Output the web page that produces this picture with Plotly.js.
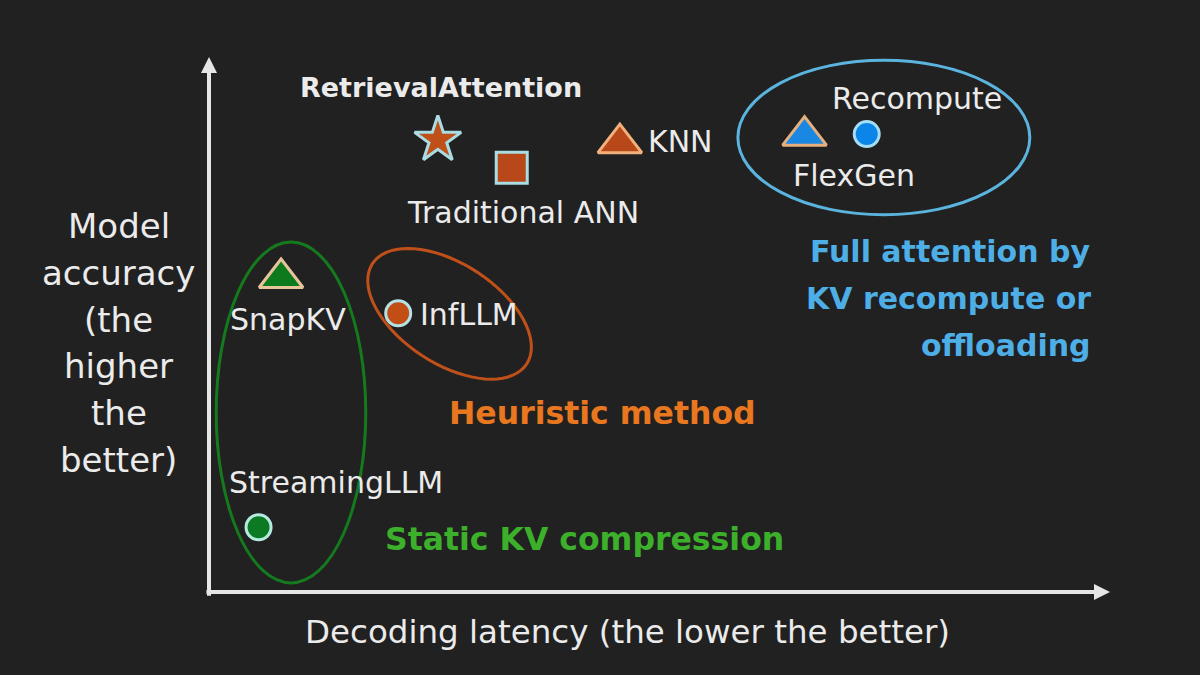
<!DOCTYPE html>
<html><head><meta charset="utf-8">
<script src="https://cdn.plot.ly/plotly-3.0.1.min.js"></script>
<style>html,body{margin:0;padding:0;background:#212121;}#chart{width:1200px;height:675px;}</style>
</head><body><div id="chart"></div>
<script>
// ---- data (conceptual scale 0-100) ----
const methods  = ['RetrievalAttention','Traditional ANN','KNN','FlexGen','Recompute','SnapKV','InfLLM','StreamingLLM'];
const latency  = [25.4, 33.6, 45.6, 66.1, 73.0, 8.0, 21.0, 5.5];
const accuracy = [84.5, 79.3, 83.9, 85.3, 85.6, 58.7, 52.1, 12.1];

const xAxisLabel = 'Decoding latency (the lower the better)';
const yAxisLabelLines = ['Model', 'accuracy', '(the', 'higher', 'the', 'better)'];
const groupFull = ['Full attention by', 'KV recompute or', 'offloading'];
const groupHeuristic = 'Heuristic method';
const groupStatic = 'Static KV compression';

// ---- styles ----
const symbols  = ['star','square','triangle-up','triangle-up','circle','triangle-up','circle','circle'];
const sizes    = [35, 31, 38, 38, 25, 38, 25, 25];
const fills    = ['#C0501A','#B8481A','#B8481A','#1A88E3','#0B86E8','#0E7A1E','#C24E16','#0B7A22'];
const outlines = ['#A9DCE3','#A9DCE3','#F2B07C','#E6B07E','#A6DDF5','#E8C49A','#B6E2E6','#B4EAE0'];
const labelDx  = [3.5, 11, 26, 49, 50, 6.5, 20, 77];
const labelDy  = [52, -45, 2, -40, 36, -42, -1, 45];
const labelAnchor = ['center','center','left','center','center','center','left','center'];
const labelBold   = [true,false,false,false,false,false,false,false];

const FONT = 'DejaVu Sans';
const TEXT = '#EBEBEB';
const PXX = 9.01, PXY = 5.35; // px per unit (plot area 901x535)

const trace = {
  type: 'scatter', mode: 'markers',
  x: latency, y: accuracy, text: methods, hoverinfo: 'text',
  marker: { symbol: symbols, size: sizes, color: fills, opacity: 1, line: { color: outlines, width: 3 } },
  cliponaxis: false, showlegend: false
};

const annotations = [];
methods.forEach((m, i) => {
  annotations.push({
    x: latency[i], y: accuracy[i], xref: 'x', yref: 'y', text: m, showarrow: false,
    xanchor: labelAnchor[i], yanchor: 'middle', xshift: labelDx[i], yshift: labelDy[i],
    font: { family: FONT, size: labelBold[i] ? 27 : 30, color: TEXT, weight: labelBold[i] ? 700 : 400 }
  });
});
// axis arrows
annotations.push({ x: 0, y: 100, ax: 0, ay: -1, xref: 'x', yref: 'y', axref: 'x', ayref: 'y', text: '',
  showarrow: true, arrowhead: 2, arrowsize: 0.8, arrowwidth: 4, arrowcolor: '#E6E6E6' });
annotations.push({ x: 100, y: 0, ax: -0.45, ay: 0, xref: 'x', yref: 'y', axref: 'x', ayref: 'y', text: '',
  showarrow: true, arrowhead: 2, arrowsize: 0.8, arrowwidth: 4, arrowcolor: '#E6E6E6' });
// axis titles (paper coords, outside plot area)
annotations.push({ x: 0.464, y: -0.075, xref: 'paper', yref: 'paper', text: xAxisLabel, showarrow: false,
  xanchor: 'center', yanchor: 'middle', font: { family: FONT, size: 32.5, color: TEXT } });
const yLabY = [0.684, 0.596, 0.508, 0.422, 0.335, 0.247];
yAxisLabelLines.forEach((t, i) => annotations.push({ x: -0.1, y: yLabY[i], xref: 'paper', yref: 'paper', text: t,
  showarrow: false, xanchor: 'center', yanchor: 'middle', font: { family: FONT, size: 34, color: TEXT } }));
// group labels
const fullY = [63.7, 54.8, 46.0];
groupFull.forEach((t, i) => annotations.push({ x: 98.1, y: fullY[i], xref: 'x', yref: 'y', text: t,
  showarrow: false, xanchor: 'right', yanchor: 'middle',
  font: { family: FONT, size: 30, color: '#4EAEE6', weight: 700 } }));
annotations.push({ x: 43.7, y: 33.5, xref: 'x', yref: 'y', text: groupHeuristic, showarrow: false,
  xanchor: 'center', yanchor: 'middle', font: { family: FONT, size: 31.5, color: '#E8771F', weight: 700 } });
annotations.push({ x: 41.7, y: 9.9, xref: 'x', yref: 'y', text: groupStatic, showarrow: false,
  xanchor: 'center', yanchor: 'middle', font: { family: FONT, size: 31.5, color: '#3DB02B', weight: 700 } });

// tilted ellipse around InfLLM
function ellipsePath(cx, cy, aPx, bPx, deg) {
  const th = deg * Math.PI / 180; let d = '';
  for (let k = 0; k <= 72; k++) {
    const t = 2 * Math.PI * k / 72;
    const dx = aPx * Math.cos(t) * Math.cos(th) - bPx * Math.sin(t) * Math.sin(th);
    const dy = aPx * Math.cos(t) * Math.sin(th) + bPx * Math.sin(t) * Math.cos(th);
    d += (k ? 'L' : 'M') + (cx + dx / PXX).toFixed(3) + ',' + (cy - dy / PXY).toFixed(3);
  }
  return d + 'Z';
}
const shapes = [
  { type: 'circle', xref: 'x', yref: 'y', x0: 58.7, x1: 91.1, y0: 70.5, y1: 99.4, line: { color: '#5AB4DE', width: 3 } },
  { type: 'circle', xref: 'x', yref: 'y', x0: 0.8, x1: 17.4, y0: 1.7, y1: 65.4, line: { color: '#157A1E', width: 3 } },
  { type: 'path', xref: 'x', yref: 'y', path: ellipsePath(26.7, 52.0, 92, 50, 33), line: { color: '#C0501A', width: 3 } }
];

const hiddenAxis = { range: [0, 100], showgrid: false, zeroline: false, showline: false, showticklabels: false, ticks: '', fixedrange: true };
const layout = {
  width: 1200, height: 675,
  margin: { l: 209, r: 90, t: 57, b: 83 },
  paper_bgcolor: '#212121', plot_bgcolor: '#212121',
  xaxis: hiddenAxis, yaxis: Object.assign({}, hiddenAxis),
  shapes, annotations, showlegend: false
};
Plotly.newPlot('chart', [trace], layout, { displayModeBar: false, staticPlot: true });
</script></body></html>
